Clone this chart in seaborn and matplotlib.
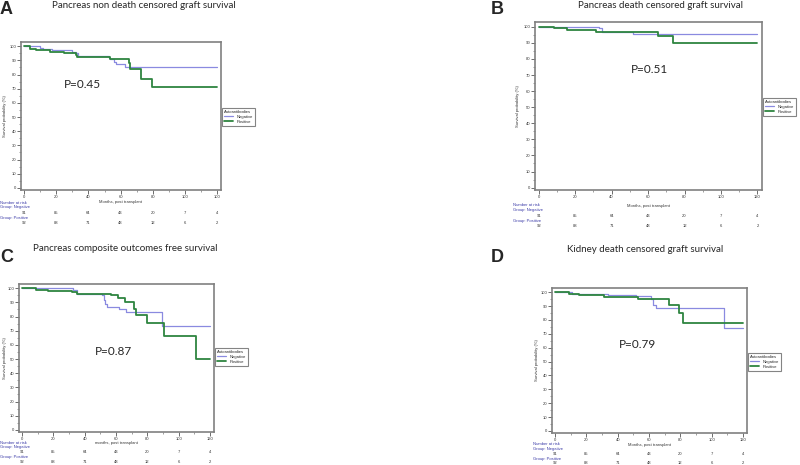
import matplotlib
matplotlib.use('Agg')
import matplotlib.pyplot as plt
from matplotlib.lines import Line2D
from matplotlib import transforms
import seaborn as sns
import pandas as pd

# survival curves (months, survival %)
a_neg_t = [0, 10, 12, 17, 30, 32, 33.5, 52.5, 53.5, 56, 57, 63, 120]
a_neg_s = [100, 99, 98, 97, 96, 95, 93, 92, 91, 89, 87.5, 85, 85]
a_pos_t = [0, 3.3, 7.5, 16, 24.5, 32, 33, 53.5, 65, 66, 73, 79.5, 120]
a_pos_s = [100, 98, 97, 96, 95, 94, 92.5, 91, 88, 84, 77, 71.5, 71.5]

b_neg_t = [0, 33, 34.5, 51.7, 120]
b_neg_s = [100, 99, 97, 95.5, 95.5]
b_pos_t = [0, 8.3, 15.7, 31.4, 65.5, 73.5, 120]
b_pos_s = [100, 99, 98, 96.7, 94.2, 90.2, 90.2]

c_neg_t = [0, 32.7, 35.3, 50.9, 52, 53, 54.5, 61.6, 66.5, 89.4, 120]
c_neg_s = [100, 99, 96, 95, 92, 89, 87, 85, 83, 73.5, 73.5]
c_pos_t = [0, 8.8, 16.7, 31.7, 35.3, 56.7, 61, 65.9, 71.7, 73, 79.8, 90.5, 111, 120]
c_pos_s = [100, 99, 98, 97, 96, 95, 93, 90, 85, 81, 75.5, 66, 50, 50]

d_neg_t = [0, 11, 33.5, 51.7, 61.3, 62.8, 64.5, 108, 120]
d_neg_s = [100, 99, 97.6, 97, 95, 91, 88.4, 74, 74]
d_pos_t = [0, 9, 15.4, 31.4, 52.7, 73, 79, 81.6, 120]
d_pos_s = [100, 99, 98, 96.6, 95, 91, 85, 78, 78]

# number at risk
risk_times = [0, 20, 40, 60, 80, 100, 120]
risk_neg = [91, 85, 64, 43, 20, 7, 4]
risk_pos = [92, 88, 71, 48, 12, 6, 2]

titles = ['Pancreas non death censored graft survival',
          'Pancreas death censored graft survival',
          'Pancreas composite outcomes free survival',
          'Kidney death censored graft survival']
letters = ['A', 'B', 'C', 'D']
pvals = ['P=0.45', 'P=0.51', 'P=0.87', 'P=0.79']
xlabels = ['Months, post transplant', 'Months, post transplant',
           'months, post transplant', 'Months, post transplant']
xtick_labels_a = ['0', '20', '40', '60', '80', '100', '100']
xtick_labels = ['0', '20', '40', '60', '80', '100', '120']

curves = [(a_neg_t, a_neg_s, a_pos_t, a_pos_s),
          (b_neg_t, b_neg_s, b_pos_t, b_pos_s),
          (c_neg_t, c_neg_s, c_pos_t, c_pos_s),
          (d_neg_t, d_neg_s, d_pos_t, d_pos_s)]

NEG = '#8a8ae0'
POS = '#2e8540'
HEAD = '#3b3ba8'

sns.set_style('ticks')
plt.rcParams['font.family'] = ['Liberation Sans', 'DejaVu Sans']

W, H = 800, 465
fig = plt.figure(figsize=(8, 4.65), dpi=100)

def fx(px):
    return px / W

def fy(py):
    return 1 - py / H

# layout in pixels: axes box (left, right, top, bottom) etc.
layout = [
    dict(box=(21, 221, 42, 190), title=(144, 5), letter=(0, 9), p=(82, 84),
         leg=(222, 108), ylab=3, nar=0, rows=(12, 13, 17, 23, 28, 33)),
    dict(box=(535, 762, 22, 190), title=(661, 5), letter=(491, 9), p=(649, 69),
         leg=(763, 98), ylab=516, nar=513, rows=(16, 15, 20, 26, 31, 36)),
    dict(box=(19, 214, 284, 432), title=(125, 248), letter=(0, 257), p=(114, 351),
         leg=(215, 348), ylab=3, nar=0, rows=(11, 11, 15, 20, 25, 30)),
    dict(box=(552, 747, 288, 433), title=(645, 249), letter=(491, 257), p=(638, 344),
         leg=(748, 353), ylab=535, nar=533, rows=(12, 11, 16, 21, 26, 30)),
]

for i, lay in enumerate(layout):
    l, r, t, b = lay['box']
    ax = fig.add_axes([fx(l), fy(b), fx(r - l), (b - t) / H])
    nt, ns, pt, ps = curves[i]
    df = pd.concat([
        pd.DataFrame({'Months': nt, 'Survival': ns, 'Group': 'Negative'}),
        pd.DataFrame({'Months': pt, 'Survival': ps, 'Group': 'Positive'}),
    ])
    sns.lineplot(data=df[df.Group == 'Negative'], x='Months', y='Survival',
                 color=NEG, linewidth=0.9, drawstyle='steps-post', ax=ax,
                 legend=False, estimator=None)
    sns.lineplot(data=df[df.Group == 'Positive'], x='Months', y='Survival',
                 color=POS, linewidth=1.3, drawstyle='steps-post', ax=ax,
                 legend=False, estimator=None)
    ax.set_xlim(-2, 122.5)
    ax.set_ylim(-1.5, 103)
    ax.set_xticks(risk_times)
    ax.set_xticklabels(xtick_labels_a if i == 0 else xtick_labels)
    ax.set_xticks(range(10, 120, 20), minor=True)
    ax.set_yticks(range(0, 101, 10))
    ax.set_yticks(range(5, 100, 10), minor=True)
    ax.tick_params(axis='both', which='major', labelsize=3, length=3, width=0.6,
                   color='#555555', labelcolor='#333333', pad=0.5)
    ax.tick_params(axis='both', which='minor', length=1.5, width=0.5, color='#777777')
    ax.set_xlabel('')
    ax.set_ylabel('')
    for sp in ax.spines.values():
        sp.set_color('#808080')
        sp.set_linewidth(1.2)

    # titles and annotations
    fig.text(fx(lay['title'][0]), fy(lay['title'][1]), titles[i], ha='center',
             va='center', fontsize=7, family=['Lato', 'DejaVu Sans'])
    fig.text(fx(lay['letter'][0]), fy(lay['letter'][1]), letters[i], ha='left',
             va='center', fontsize=13, fontweight='bold')
    fig.text(fx(lay['p'][0]), fy(lay['p'][1]), pvals[i], ha='center', va='center',
             fontsize=8.5, family=['Lato', 'DejaVu Sans'])
    fig.text(fx(lay['ylab']), fy((t + b) / 2), 'Survival probability (%)',
             rotation=90, ha='left', va='center', fontsize=3, color='#333333')

    handles = [Line2D([], [], color=NEG, lw=0.9), Line2D([], [], color=POS, lw=1.3)]
    leg = ax.legend(handles, ['Negative', 'Positive'], title='Autoantibodies',
                    loc='upper left', bbox_to_anchor=(fx(lay['leg'][0]), fy(lay['leg'][1])),
                    bbox_transform=fig.transFigure, fontsize=3, title_fontsize=3,
                    frameon=True, fancybox=False, edgecolor='#666666',
                    handlelength=2.2, borderpad=0.5, labelspacing=0.2,
                    handletextpad=0.8, borderaxespad=0)
    leg.get_frame().set_linewidth(0.8)
    leg._legend_box.align = 'left'

    # number at risk table
    rows = lay['rows']
    tr = transforms.blended_transform_factory(ax.transData, fig.transFigure)
    ax.text(60, fy(b + rows[0]), xlabels[i], transform=tr, ha='center', va='center',
            fontsize=3, color='#333333')
    fig.text(fx(lay['nar']), fy(b + rows[1]), 'Number at risk', ha='left',
             va='center', fontsize=3, color=HEAD)
    fig.text(fx(lay['nar']), fy(b + rows[2]), 'Group: Negative', ha='left',
             va='center', fontsize=3, color=HEAD)
    fig.text(fx(lay['nar']), fy(b + rows[4]), 'Group: Positive', ha='left',
             va='center', fontsize=3, color=HEAD)
    for tm, nn, pp in zip(risk_times, risk_neg, risk_pos):
        ax.text(tm, fy(b + rows[3]), str(nn), transform=tr, ha='center',
                va='center', fontsize=3, color='#333333')
        ax.text(tm, fy(b + rows[5]), str(pp), transform=tr, ha='center',
                va='center', fontsize=3, color='#333333')

fig.savefig('out.png', dpi=100)
